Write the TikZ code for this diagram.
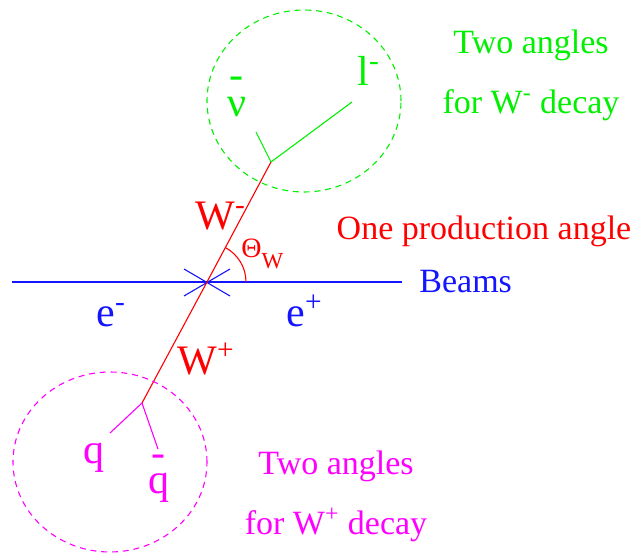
\documentclass[tikz,border=0pt]{standalone}
\usepackage{fontspec}
\setmainfont{Liberation Serif}
\usetikzlibrary{calc,positioning}
\definecolor{decayGreen}{RGB}{0,240,0}
\definecolor{decayMagenta}{RGB}{255,0,255}
\definecolor{beamBlue}{RGB}{20,20,255}
\definecolor{prodRed}{RGB}{255,0,0}
% short dash set above a letter (anti-particle bar)
\newcommand{\DashOver}[2]{%
\setbox0\hbox{#2}\rlap{\hbox to\wd0{\hss\raisebox{#1}{-}\hss}}\box0}

\begin{document}
\begin{tikzpicture}[x=0.5pt,y=0.5pt,
  thinLine/.style={line width=0.55pt},
  dashCircle/.style={line width=0.55pt,dash pattern=on 3pt off 2.4pt},
  partLabel/.style={inner sep=0pt,font=\fontsize{21}{24}\selectfont},
  infoText/.style={inner sep=0pt,align=center,font=\fontsize{17}{30}\selectfont}]
\useasboundingbox (0,0) rectangle (637,552);

% interaction point and beams
\coordinate (ip) at (207,270);
\coordinate (beamL) at (12,270);
\coordinate (beamR) at (402,270);
\coordinate (crossA) at (184,283);
\coordinate (crossB) at (230,256);
\coordinate (crossC) at (184,256);
\coordinate (crossD) at (230,283);
\draw[thinLine,beamBlue] (beamL) -- (beamR);
\draw[thinLine,beamBlue] (crossA) -- (crossB);
\draw[thinLine,beamBlue] (crossC) -- (crossD);

% W bosons
\coordinate (wMinus) at (271,390);
\coordinate (wPlus) at (142,149);
\coordinate (angleStart) at (246,270);
\draw[thinLine,prodRed] (wPlus) -- (ip) -- (wMinus);
\draw[thinLine,prodRed] (angleStart) arc[start angle=0,end angle=62,radius=39];

% W- decay
\coordinate (lepEnd) at (352,450);
\coordinate (nuEnd) at (256,420);
\draw[thinLine,decayGreen] (wMinus) -- (lepEnd);
\draw[thinLine,decayGreen] (wMinus) -- (nuEnd);
\draw[dashCircle,decayGreen] (304,451) ellipse [x radius=97,y radius=91];

% W+ decay
\coordinate (qEnd) at (110,119);
\coordinate (qbarEnd) at (158,103);
\draw[thinLine,decayMagenta] (wPlus) -- (qEnd);
\draw[thinLine,decayMagenta] (wPlus) -- (qbarEnd);
\draw[dashCircle,decayMagenta] (110,90) ellipse [x radius=97,y radius=90];

% particle labels
\node[partLabel,prodRed,anchor=base west] (wmLabel) at (195,322) {W\textsuperscript{-}};
\node[partLabel,prodRed,anchor=base west] (wpLabel) at (177,177) {W\textsuperscript{+}};
\node[inner sep=0pt,prodRed,anchor=base west,font=\fontsize{14}{16}\selectfont] (thetaLabel) at (241,294)
  {Θ\raisebox{-5.5pt}{\fontsize{11.5}{12}\selectfont W}};
\node[partLabel,beamBlue,anchor=base west] (emLabel) at (96,225) {e\textsuperscript{-}};
\node[partLabel,beamBlue,anchor=base west] (epLabel) at (286,225) {e\textsuperscript{+}};
\node[partLabel,decayGreen,anchor=base west] (nuLabel) at (227,435) {\DashOver{14pt}{ν}};
\node[partLabel,decayGreen,anchor=base west] (lepLabel) at (357,466) {l\textsuperscript{-}};
\node[partLabel,decayMagenta,anchor=base west] (qLabel) at (83,89) {q};
\node[partLabel,decayMagenta,anchor=base west] (qbarLabel) at (148,59) {\DashOver{13.5pt}{q}};

% explanations
\node[infoText,decayGreen] (wmText) at (531,477) {Two angles\\for W\textsuperscript{-} decay};
\node[infoText,prodRed,anchor=base] (prodText) at (484,312) {One production angle};
\node[infoText,beamBlue,anchor=base west] (beamText) at (419,259) {Beams};
\node[infoText,decayMagenta] (wpText) at (336,56) {Two angles\\for W\textsuperscript{+} decay};
\end{tikzpicture}
\end{document}
